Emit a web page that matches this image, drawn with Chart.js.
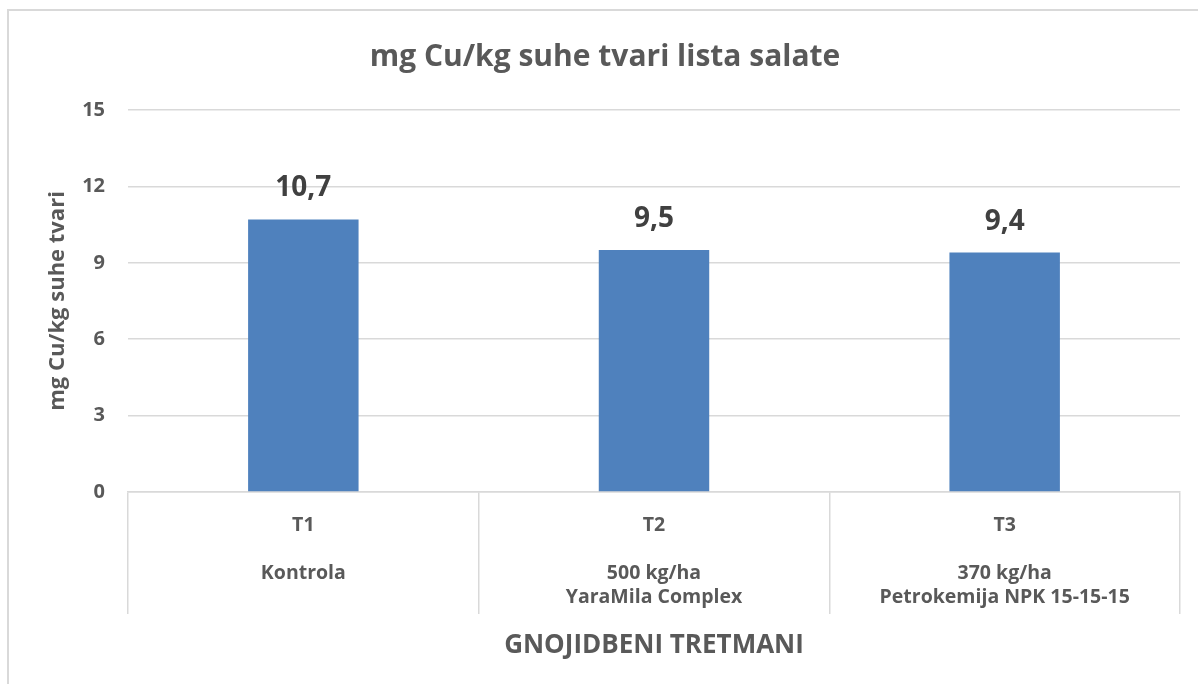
<!DOCTYPE html>
<html lang="hr">
<head>
    <meta charset="UTF-8">
    <title>mg Cu/kg suhe tvari lista salate</title>
    <script src="https://cdn.jsdelivr.net/npm/chart.js"></script>
    <style>
        body { margin: 0; background: #fff; }
        #frame {
            position: absolute; left: 7px; top: 9px; width: 1300px; height: 800px;
            border-left: 2px solid #d9d9d9; border-top: 2px solid #d9d9d9;
        }
        #wrap { position: absolute; left: 0; top: 0; width: 1198px; height: 684px; }
    </style>
</head>
<body>
    <div id="frame"></div>
    <div id="wrap"><canvas id="myChart"></canvas></div>

    <script>
        // podaci s grafa
        const categories = [
            ['T1', '', 'Kontrola'],
            ['T2', '', '500 kg/ha', 'YaraMila Complex'],
            ['T3', '', '370 kg/ha', 'Petrokemija NPK 15-15-15']
        ];
        const cuValues = [10.7, 9.5, 9.4];
        const yTicks = [0, 3, 6, 9, 12, 15];

        const FONT = '"Open Sans"';
        const GREY = '#595959';

        // vrijednosti iznad stupaca
        const valueLabels = {
            id: 'valueLabels',
            afterDatasetsDraw(chart) {
                const ctx = chart.ctx;
                const meta = chart.getDatasetMeta(0);
                ctx.save();
                ctx.font = 'bold 28px ' + FONT;
                ctx.fillStyle = '#404040';
                ctx.textAlign = 'center';
                ctx.textBaseline = 'middle';
                meta.data.forEach((bar, i) => {
                    ctx.fillText(cuValues[i].toFixed(1).replace('.', ','), bar.x, bar.y - 31);
                });
                ctx.restore();
            }
        };

        const ctx = document.getElementById('myChart').getContext('2d');
        const myChart = new Chart(ctx, {
            type: 'bar',
            data: {
                labels: categories,
                datasets: [{
                    label: 'mg Cu/kg suhe tvari',
                    data: cuValues,
                    backgroundColor: '#4f81bd',
                    barPercentage: 0.63,
                    categoryPercentage: 0.5
                }]
            },
            options: {
                responsive: true,
                maintainAspectRatio: false,
                animation: false,
                layout: { padding: { left: 30, right: 18, top: 0, bottom: 0 } },
                plugins: {
                    legend: { display: false },
                    tooltip: { enabled: false },
                    title: {
                        display: true,
                        text: 'mg Cu/kg suhe tvari lista salate',
                        color: GREY,
                        font: { family: FONT, size: 30, weight: 'bold' },
                        padding: { top: 39, bottom: 35 }
                    }
                },
                scales: {
                    x: {
                        afterFit(scale) { scale.height = 192; },
                        grid: {
                            offset: true,
                            drawOnChartArea: false,
                            tickLength: 122,
                            color: '#d9d9d9',
                            lineWidth: 1.5
                        },
                        border: { color: '#d9d9d9', width: 1.5 },
                        ticks: {
                            color: GREY,
                            padding: -101,
                            font: { family: FONT, size: 19.5, weight: 'bold', lineHeight: 1.23 }
                        },
                        title: {
                            display: true,
                            text: 'GNOJIDBENI TRETMANI',
                            color: GREY,
                            font: { family: FONT, size: 26, weight: 'bold' },
                            padding: { top: 20, bottom: 23 }
                        }
                    },
                    y: {
                        min: 0,
                        max: 15,
                        afterFit(scale) { scale.width = 98; },
                        afterBuildTicks(axis) {
                            axis.ticks = yTicks.map(v => ({ value: v }));
                        },
                        grid: { color: '#d9d9d9', drawTicks: false, lineWidth: 1.5 },
                        border: { display: false },
                        ticks: {
                            color: GREY,
                            padding: 23,
                            font: { family: FONT, size: 20, weight: 'bold' }
                        },
                        title: {
                            display: true,
                            text: 'mg Cu/kg suhe tvari',
                            color: GREY,
                            font: { family: FONT, size: 22, weight: 'bold' },
                            padding: { top: 15, bottom: 10 }
                        }
                    }
                }
            },
            plugins: [valueLabels]
        });
    </script>
</body>
</html>
